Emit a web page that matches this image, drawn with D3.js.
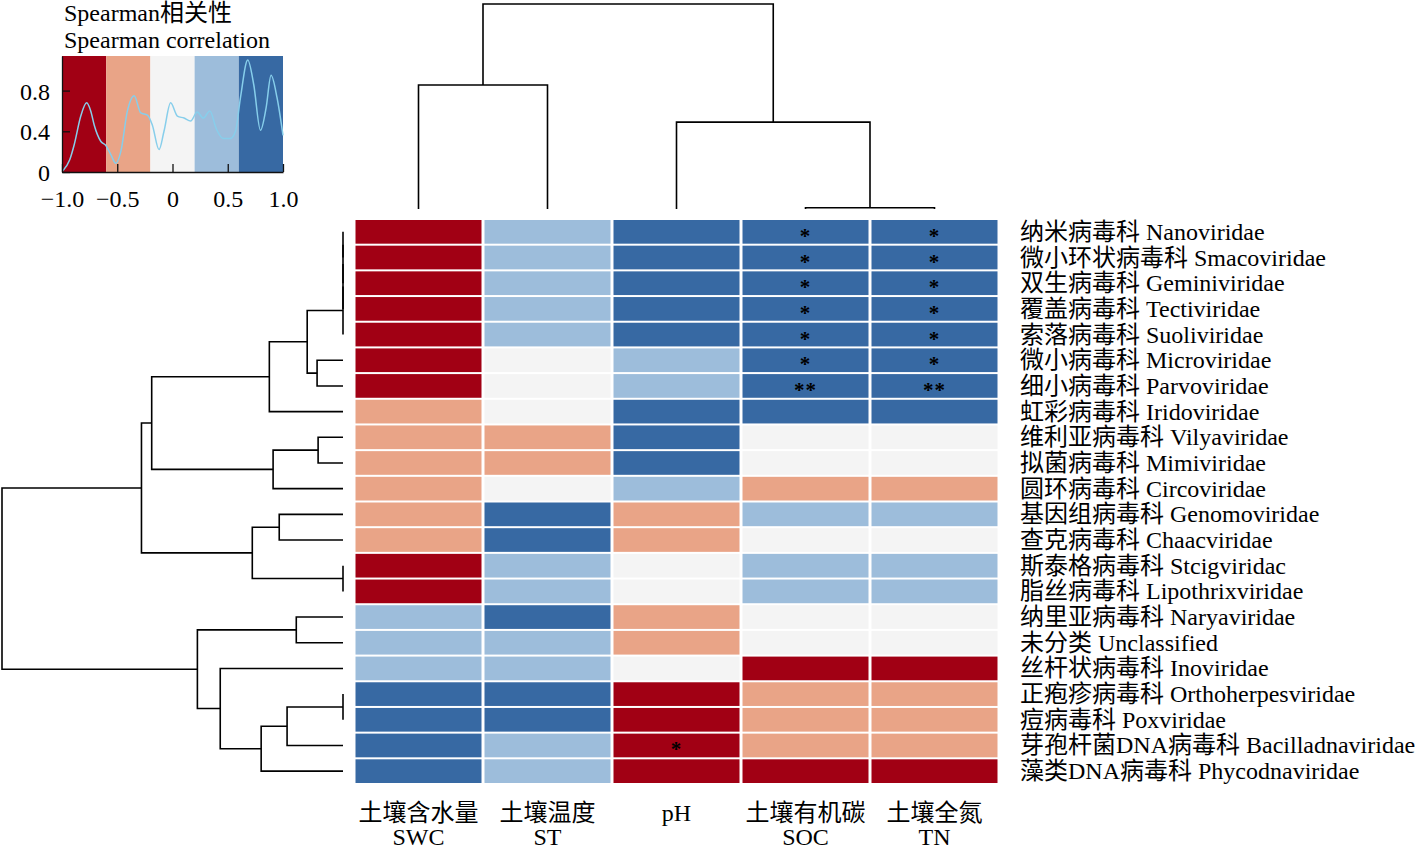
<!DOCTYPE html>
<html><head><meta charset="utf-8">
<script src="https://cdn.jsdelivr.net/npm/d3@7"></script>
<style>
body{margin:0;background:#fff}
text{font-family:"Liberation Serif","Times New Roman","Noto Sans CJK SC",serif;fill:#000}
</style>
</head><body>
<svg id="chart" width="1422" height="850"></svg>
<script>
// ---------------- data ----------------
const rowLabels = [
  "纳米病毒科 Nanoviridae","微小环状病毒科 Smacoviridae","双生病毒科 Geminiviridae",
  "覆盖病毒科 Tectiviridae","索落病毒科 Suoliviridae","微小病毒科 Microviridae",
  "细小病毒科 Parvoviridae","虹彩病毒科 Iridoviridae","维利亚病毒科 Vilyaviridae",
  "拟菌病毒科 Mimiviridae","圆环病毒科 Circoviridae","基因组病毒科 Genomoviridae",
  "查克病毒科 Chaacviridae","斯泰格病毒科 Stcigviridac","脂丝病毒科 Lipothrixviridae",
  "纳里亚病毒科 Naryaviridae","未分类 Unclassified","丝杆状病毒科 Inoviridae",
  "正疱疹病毒科 Orthoherpesviridae","痘病毒科 Poxviridae",
  "芽孢杆菌DNA病毒科 Bacilladnaviridae","藻类DNA病毒科 Phycodnaviridae"
];
const colLabelsZh = ["土壤含水量","土壤温度","pH","土壤有机碳","土壤全氮"];
const colLabelsEn = ["SWC","ST","","SOC","TN"];
// Spearman correlation (rows x SWC, ST, pH, SOC, TN)
const corr = [
  [-0.83, 0.42, 0.71, 0.86, 0.85],
  [-0.81, 0.45, 0.69, 0.88, 0.87],
  [-0.80, 0.44, 0.70, 0.87, 0.86],
  [-0.82, 0.43, 0.72, 0.86, 0.88],
  [-0.79, 0.41, 0.68, 0.85, 0.86],
  [-0.76, 0.12, 0.48, 0.89, 0.88],
  [-0.74, 0.10, 0.46, 0.93, 0.94],
  [-0.52, 0.08, 0.66, 0.74, 0.73],
  [-0.45,-0.38, 0.64, 0.05, 0.03],
  [-0.43,-0.36, 0.63, 0.02, 0.04],
  [-0.41,-0.05, 0.32,-0.35,-0.33],
  [-0.38, 0.65,-0.42, 0.28, 0.26],
  [-0.36, 0.67,-0.40, 0.12, 0.10],
  [-0.72, 0.35,-0.08, 0.30, 0.31],
  [-0.72, 0.35,-0.08, 0.30, 0.31],
  [ 0.36, 0.62,-0.33,-0.06,-0.04],
  [ 0.33, 0.52,-0.30, 0.15, 0.13],
  [ 0.30, 0.38,-0.12,-0.68,-0.69],
  [ 0.78, 0.70,-0.80,-0.50,-0.48],
  [ 0.78, 0.70,-0.80,-0.50,-0.48],
  [ 0.75, 0.55,-0.88,-0.46,-0.45],
  [ 0.72, 0.45,-0.85,-0.70,-0.71]
];
const signif = [
  ["","","","*","*"],["","","","*","*"],["","","","*","*"],["","","","*","*"],
  ["","","","*","*"],["","","","*","*"],["","","","**","**"],["","","","",""],
  ["","","","",""],["","","","",""],["","","","",""],["","","","",""],
  ["","","","",""],["","","","",""],["","","","",""],["","","","",""],
  ["","","","",""],["","","","",""],["","","","",""],["","","","",""],
  ["","","*","",""],["","","","",""]
];
const breaks = [-1, -0.6, -0.2, 0.2, 0.6, 1];
const binColors = ["#A10014", "#E9A487", "#F4F4F4", "#9DBDDB", "#3769A3"];
// legend density curve
const densX = [-0.994,-0.93,-0.889,-0.83,-0.777,-0.74,-0.708,-0.648,-0.603,-0.558,-0.513,-0.468,-0.408,-0.347,-0.287,-0.227,-0.182,-0.122,-0.077,-0.017,0.044,0.104,0.164,0.224,0.278,0.338,0.398,0.459,0.525,0.57,0.615,0.681,0.735,0.796,0.847,0.892,0.946,1.0];
const densY = [0.01,0.12,0.27,0.55,0.68,0.6,0.46,0.30,0.26,0.17,0.085,0.2,0.6,0.75,0.58,0.56,0.46,0.22,0.4,0.68,0.55,0.53,0.50,0.59,0.53,0.60,0.42,0.33,0.33,0.40,0.73,1.10,0.86,0.41,0.63,0.95,0.73,0.36];
const xTicks = [-1, -0.5, 0, 0.5, 1];
const xTickLabels = ["−1.0", "−0.5", "0", "0.5", "1.0"];
const yTicks = [0, 0.4, 0.8];
const yTickLabels = ["0", "0.4", "0.8"];
// dendrograms: [height, left, right], leaves = index
const rowTree = [1.0,
  [0.591,
    [0.561,
      [0.216,
        [0.105, [0,[0,[0,[0,0,1],2],3],4], [0.076,5,6]],
        7],
      [0.205, [0.073,8,9], 10]],
    [0.266, [0.187,11,12], [0,13,14]]],
  [0.427,
    [0.137,15,16],
    [0.36, 17, [0.24, [0.164, [0,18,19], 20], 21]]]
];
const colTree = [1.0, [0.605, 0, 1], [0.424, 2, [0.006, 3, 4]]];

// ---------------- drawing ----------------
const svg = d3.select("#chart");
const FS = 24;

const x = d3.scaleBand().domain(d3.range(colLabelsZh.length)).range([354, 999]);
const y = d3.scaleBand().domain(d3.range(rowLabels.length)).range([219, 784]);
const color = d3.scaleThreshold().domain(breaks.slice(1, -1)).range(binColors);

// heatmap cells
const cells = [];
corr.forEach((row, i) => row.forEach((v, j) => cells.push({i, j, v, s: signif[i][j]})));
svg.append("g").selectAll("rect").data(cells).join("rect")
  .attr("x", d => x(d.j) + 1.5).attr("y", d => y(d.i) + 1)
  .attr("width", x.bandwidth() - 3).attr("height", y.bandwidth() - 2)
  .attr("fill", d => color(d.v));
svg.append("g").selectAll("text").data(cells.filter(d => d.s)).join("text")
  .attr("x", d => x(d.j) + x.bandwidth() / 2).attr("y", d => y(d.i) + y.bandwidth() / 2 + 11)
  .attr("text-anchor", "middle").attr("font-size", 21).attr("font-weight", "bold")
  .attr("letter-spacing", 1).text(d => d.s);

// row labels
svg.append("g").selectAll("text").data(rowLabels).join("text")
  .attr("x", 1020).attr("y", (d, i) => y(i) + y.bandwidth() / 2)
  .attr("dominant-baseline", "central").attr("font-size", FS).text(d => d);

// column labels
const cl = svg.append("g");
colLabelsZh.forEach((t, j) => {
  cl.append("text").attr("x", x(j) + x.bandwidth() / 2).attr("y", 813)
    .attr("text-anchor", "middle").attr("dominant-baseline", "central").attr("font-size", FS).text(t);
  if (colLabelsEn[j]) cl.append("text").attr("x", x(j) + x.bandwidth() / 2).attr("y", 837)
    .attr("text-anchor", "middle").attr("dominant-baseline", "central").attr("font-size", FS).text(colLabelsEn[j]);
});

// dendrogram helper
function drawTree(g, node, leafPos, hPos, horizontal) {
  const pt = (h, p) => horizontal ? [hPos(h), p] : [p, hPos(h)];
  function rec(n) {
    if (typeof n === "number") return {pos: leafPos(n), h: 0};
    const a = rec(n[1]), b = rec(n[2]);
    const pts = [pt(a.h, a.pos), pt(n[0], a.pos), pt(n[0], b.pos), pt(b.h, b.pos)];
    g.append("path").attr("d", d3.line()(pts))
      .attr("fill", "none").attr("stroke", "#000").attr("stroke-width", 1.6);
    return {pos: (a.pos + b.pos) / 2, h: n[0]};
  }
  rec(node);
}
const rowH = d3.scaleLinear().domain([0, 1]).range([343, 2]);
drawTree(svg.append("g"), rowTree, i => y(i) + y.bandwidth() / 2, rowH, true);
const colH = d3.scaleLinear().domain([0, 1]).range([209, 4]);
drawTree(svg.append("g"), colTree, j => x(j) + x.bandwidth() / 2, colH, false);

// ---------------- legend ----------------
const lx = d3.scaleLinear().domain([-1, 1]).range([62, 283]);
const ly = d3.scaleLinear().domain([0, 1.14]).range([172, 56]);
const lg = svg.append("g");
lg.selectAll("rect").data(binColors).join("rect")
  .attr("x", (d, i) => lx(breaks[i])).attr("y", ly(1.14))
  .attr("width", (d, i) => lx(breaks[i + 1]) - lx(breaks[i]))
  .attr("height", ly(0) - ly(1.14)).attr("fill", d => d);
lg.append("path")
  .attr("d", d3.line().x((d, i) => lx(densX[i])).y(d => ly(d)).curve(d3.curveMonotoneX)(densY))
  .attr("fill", "none").attr("stroke", "#87CEEB").attr("stroke-width", 1.5);
const ax = lg.append("g").attr("transform", `translate(0,${ly(0)})`)
  .call(d3.axisBottom(lx).tickValues(xTicks).tickFormat((d, i) => xTickLabels[i])
    .tickSizeInner(-8).tickSizeOuter(0).tickPadding(18));
const ay = lg.append("g").attr("transform", `translate(${lx(-1)},0)`)
  .call(d3.axisLeft(ly).tickValues(yTicks).tickFormat((d, i) => yTickLabels[i])
    .tickSizeInner(-8).tickSizeOuter(0).tickPadding(12));
[ax, ay].forEach(a => {
  a.attr("font-family", null).attr("font-size", null);
  a.selectAll("text").attr("font-size", FS);
  a.selectAll("line,path").attr("stroke", "#111").attr("stroke-width", 1.3);
});
ay.selectAll("text").attr("dy", "0.35em");
lg.append("text").attr("x", 64).attr("y", 13).attr("dominant-baseline", "central")
  .attr("font-size", FS).text("Spearman相关性");
lg.append("text").attr("x", 64).attr("y", 40).attr("dominant-baseline", "central")
  .attr("font-size", FS).text("Spearman correlation");
</script>
</body></html>
